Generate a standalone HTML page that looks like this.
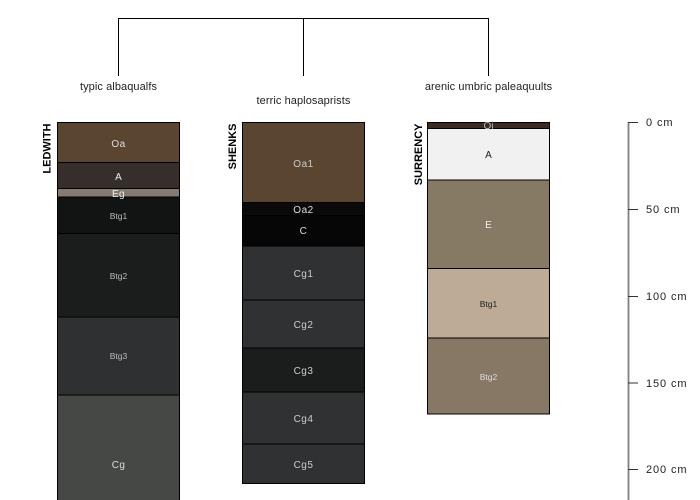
<!DOCTYPE html>
<html><head><meta charset="utf-8"><style>
html,body{margin:0;padding:0;background:#fff;width:700px;height:500px;overflow:hidden}
svg{display:block}
text{font-family:"Liberation Sans",sans-serif}
.t{font-size:11px;letter-spacing:.08px;fill:#222;text-anchor:middle}
.h{font-size:10px;text-anchor:middle}
.w{letter-spacing:.4px}
.s{font-size:8.5px;text-anchor:middle}
.n{font-size:11px;font-weight:bold;fill:#000;text-anchor:end}
.a{font-size:11px;fill:#222;letter-spacing:.9px}
rect{stroke:#000;stroke-width:1}
</style></head><body>
<svg width="700" height="500" viewBox="0 0 700 500" xmlns="http://www.w3.org/2000/svg">
<path d="M118.5 76V18.5H488.5V76M303.5 18.5V76" fill="none" stroke="#000" stroke-width="1"/>
<text class="t" x="118.5" y="90">typic albaqualfs</text>
<text class="t" x="303.5" y="104">terric haplosaprists</text>
<text class="t" x="488.5" y="90">arenic umbric paleaquults</text>

<rect x="57.5" y="122.5" width="122" height="40" fill="#5a4630"/>
<rect x="57.5" y="162.5" width="122" height="26" fill="#362e2a"/>
<rect x="57.5" y="188.5" width="122" height="8.5" fill="#857b70"/>
<rect x="57.5" y="197" width="122" height="36.5" fill="#111413"/>
<rect x="57.5" y="233.5" width="122" height="83.5" fill="#1b1d1c"/>
<rect x="57.5" y="317" width="122" height="78" fill="#2f3032"/>
<rect x="57.5" y="395" width="122" height="115" fill="#464846"/>
<text class="h w" x="118.5" y="147" fill="#ddd">Oa</text>
<text class="h" x="118.5" y="180" fill="#eee">A</text>
<text class="h w" x="118.5" y="197" fill="#eee">Eg</text>
<text class="s" x="118.5" y="219" fill="#bbb">Btg1</text>
<text class="s" x="118.5" y="279" fill="#bbb">Btg2</text>
<text class="s" x="118.5" y="359" fill="#bbb">Btg3</text>
<text class="h w" x="118.5" y="468" fill="#ddd">Cg</text>
<text class="n" transform="translate(50.5,123.5) rotate(-90)">LEDWITH</text>

<rect x="242.5" y="122.5" width="122" height="80" fill="#5a4630"/>
<rect x="242.5" y="202.5" width="122" height="13" fill="#0a0a0a" stroke="#0a0a0a"/>
<rect x="242.5" y="215.5" width="122" height="30.5" fill="#060606" stroke="#060606"/>
<rect x="242.5" y="246" width="122" height="54" fill="#303133"/>
<rect x="242.5" y="300" width="122" height="48" fill="#303133"/>
<rect x="242.5" y="348" width="122" height="44" fill="#1b1d1c"/>
<rect x="242.5" y="392" width="122" height="52" fill="#303133"/>
<rect x="242.5" y="444" width="122" height="39.5" fill="#303133"/>
<g style="letter-spacing:.5px">
<text class="h" x="303.5" y="167" fill="#ccc">Oa1</text>
<text class="h" x="303.5" y="213" fill="#ddd">Oa2</text>
<text class="h" x="303.5" y="234" fill="#ddd">C</text>
<text class="h" x="303.5" y="277" fill="#ccc">Cg1</text>
<text class="h" x="303.5" y="328" fill="#ccc">Cg2</text>
<text class="h" x="303.5" y="374" fill="#ccc">Cg3</text>
<text class="h" x="303.5" y="422" fill="#ccc">Cg4</text>
<text class="h" x="303.5" y="468" fill="#ccc">Cg5</text>
</g>
<text class="n" transform="translate(236,123.5) rotate(-90)">SHENKS</text>

<rect x="427.5" y="122.5" width="122" height="6" fill="#3a2a20" stroke="#2a211c"/>
<rect x="427.5" y="128.5" width="122" height="51.5" fill="#f1f1f1" stroke="#2b2b2b"/>
<rect x="427.5" y="180" width="122" height="88.5" fill="#867a64" stroke="#2b2b2b"/>
<rect x="427.5" y="268.5" width="122" height="69.5" fill="#bdab95" stroke="#2b2b2b"/>
<rect x="427.5" y="338" width="122" height="76" fill="#877865" stroke="#2b2b2b"/>
<text class="h" x="488.5" y="129" fill="#bbb">Oi</text>
<text class="h" x="488.5" y="158" fill="#222">A</text>
<text class="h" x="488.5" y="228" fill="#eee">E</text>
<text class="s" x="488.5" y="307" fill="#222">Btg1</text>
<text class="s" x="488.5" y="380" fill="#ddd">Btg2</text>
<text class="n" transform="translate(422,123.5) rotate(-90)">SURRENCY</text>

<path d="M628.5 122V500" stroke="#808080" stroke-width="1.8" fill="none"/>
<path d="M628 122.5H638M628 209.5H638M628 296.5H638M628 383H638M628 469.5H638" stroke="#333" stroke-width="1" fill="none"/>
<text class="a" x="646" y="126">0 cm</text>
<text class="a" x="646" y="213">50 cm</text>
<text class="a" x="646" y="300">100 cm</text>
<text class="a" x="646" y="387">150 cm</text>
<text class="a" x="646" y="473">200 cm</text>
</svg>
</body></html>
